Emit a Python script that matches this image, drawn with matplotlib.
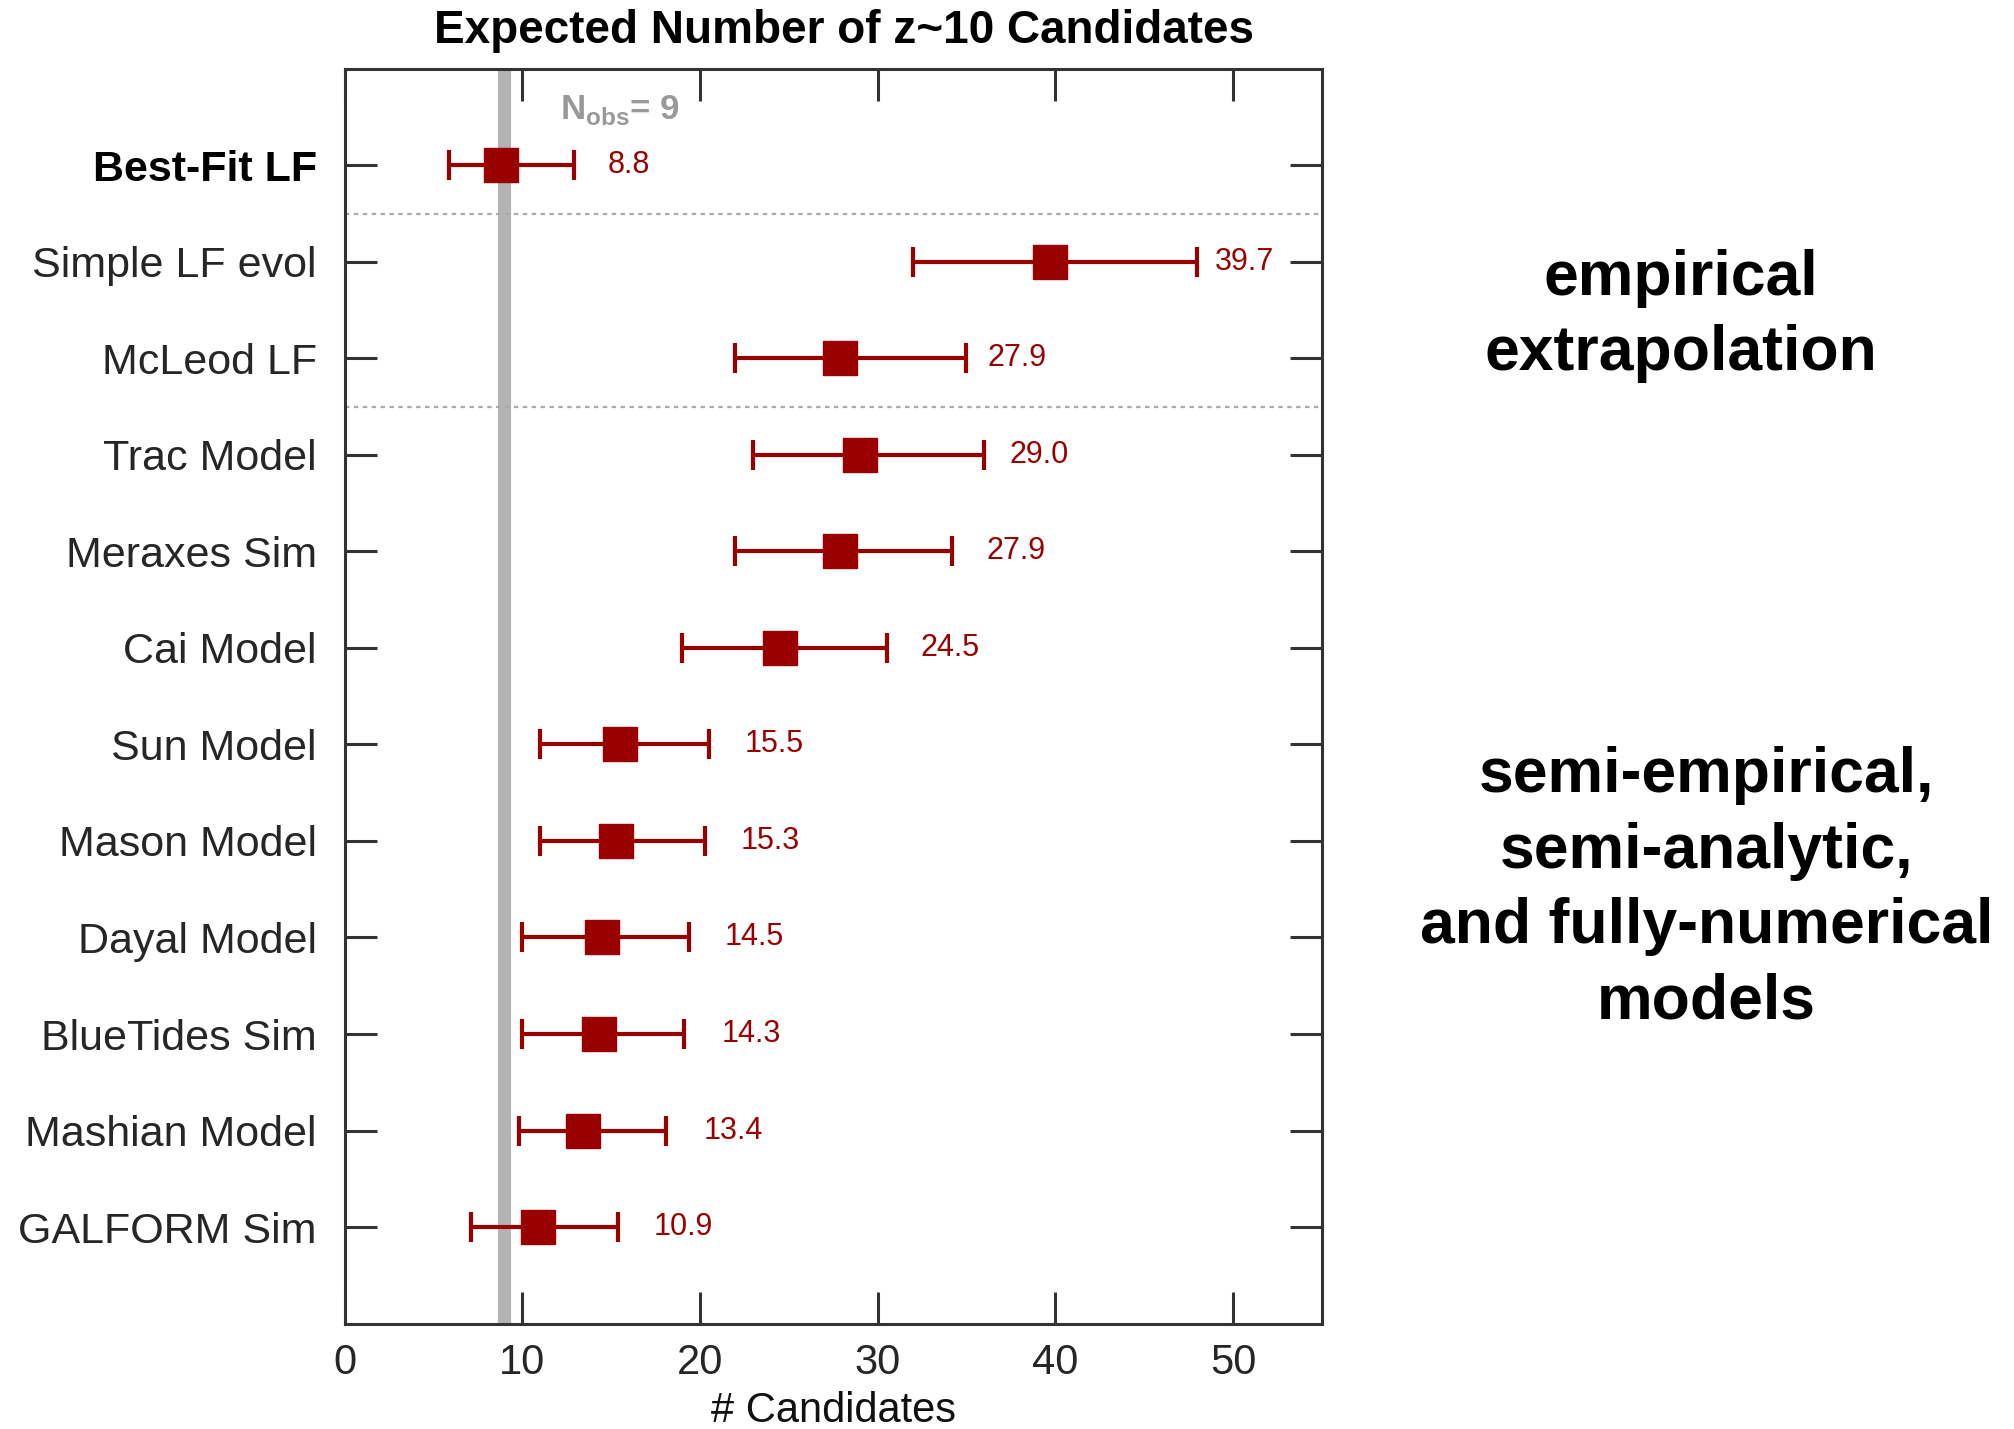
import matplotlib
matplotlib.use('Agg')
import matplotlib.pyplot as plt

plt.rcParams['font.family'] = ['Liberation Sans', 'DejaVu Sans']
plt.rcParams['mathtext.fontset'] = 'custom'
plt.rcParams['mathtext.rm'] = 'Liberation Sans:bold'

# expected number of z~10 candidates per model, with lower / upper range
models = ['Best-Fit LF', 'Simple LF evol', 'McLeod LF', 'Trac Model', 'Meraxes Sim',
          'Cai Model', 'Sun Model', 'Mason Model', 'Dayal Model', 'BlueTides Sim',
          'Mashian Model', 'GALFORM Sim']
expected = [8.8, 39.7, 27.9, 29.0, 27.9, 24.5, 15.5, 15.3, 14.5, 14.3, 13.4, 10.9]
lower = [5.9, 32.0, 22.0, 23.0, 22.0, 19.0, 11.0, 11.0, 10.0, 10.0, 9.8, 7.1]
upper = [12.9, 48.0, 35.0, 36.0, 34.2, 30.5, 20.5, 20.3, 19.4, 19.1, 18.1, 15.4]
n_obs = 9
x_ticks = [0, 10, 20, 30, 40, 50]

# gap between the upper cap and the value label (data units)
label_gap = [1.9, 1.0, 1.2, 1.4, 1.9, 1.9, 2.0, 2.0, 2.0, 2.1, 2.1, 2.0]

red = '#990000'
rows = list(range(len(models)))

fig = plt.figure(figsize=(20.15, 14.29), dpi=100)
ax = fig.add_axes([0.171, 0.0738, 0.485, 0.878])

ax.axvline(n_obs, color='#b3b3b3', lw=9.5, zorder=1)
for yy in [0.5, 2.5]:
    ax.axhline(yy, color='#aaaaaa', lw=1.6, ls=(0, (2, 2)), zorder=1)

xerr = [[e - lo for e, lo in zip(expected, lower)],
        [hi - e for e, hi in zip(expected, upper)]]
ax.errorbar(expected, rows, xerr=xerr, fmt='s', color=red, ms=24, mec=red,
            elinewidth=3, capsize=11, capthick=3, zorder=3)

for r, e, hi, g in zip(rows, expected, upper, label_gap):
    ax.text(hi + g, r, f'{e:.1f}', color=red, fontsize=22, va='center', ha='left')

ax.text(12.1, -0.57, r'N$_{\rm obs}$= 9', color='#999999', fontsize=25,
        fontweight='bold', va='center', ha='left')

ax.set_xlim(0, 55)
ax.set_ylim(12, -1)
ax.set_xticks(x_ticks)
ax.set_yticks(rows)
ax.set_yticklabels(models)
for lab in ax.get_yticklabels():
    lab.set_color('#262626')
ax.get_yticklabels()[0].set_fontweight('bold')
ax.get_yticklabels()[0].set_color('black')

ax.tick_params(axis='x', direction='in', length=23, width=2.2, top=True,
               labelsize=30, pad=14, color='#333333', labelcolor='#262626')
ax.tick_params(axis='y', direction='in', length=23, width=2.2, right=True,
               labelsize=31, pad=20, color='#333333')
for sp in ax.spines.values():
    sp.set_linewidth(2.2)
    sp.set_color('#333333')

ax.set_xlabel('# Candidates', fontsize=30, labelpad=6, color='#111111')
fig.text(0.419, 0.978, 'Expected Number of z~10 Candidates', fontsize=33,
         fontweight='bold', ha='center', va='center')

fig.text(0.834, 0.779, 'empirical\nextrapolation', fontsize=45, fontweight='bold',
         ha='center', va='center', linespacing=1.36)
fig.text(0.847, 0.378, 'semi-empirical,\nsemi-analytic,\nand fully-numerical\nmodels',
         fontsize=45, fontweight='bold', ha='center', va='center', linespacing=1.36)

fig.savefig('out.png', dpi=100)
